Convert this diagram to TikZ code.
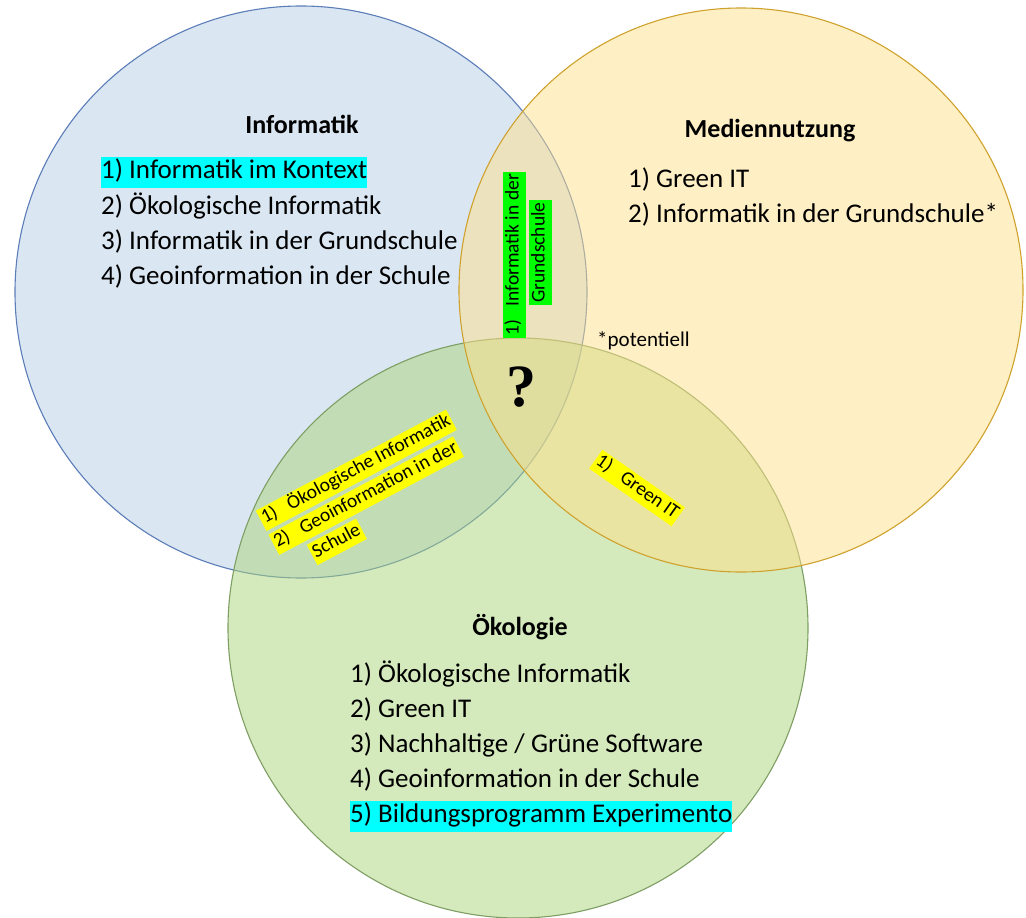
\documentclass[tikz,border=0pt]{standalone}
\usepackage{fontspec}
\setmainfont{Carlito}
\newfontfamily\qfont{Liberation Serif}
\definecolor{infofill}{HTML}{B5CDE5}
\definecolor{infoline}{HTML}{5B7DB8}
\definecolor{medfill}{HTML}{FFDF8B}
\definecolor{medline}{HTML}{CFA22E}
\definecolor{oekofill}{HTML}{ABD579}
\definecolor{oekoline}{HTML}{7E9E63}
\definecolor{hicyan}{HTML}{00FFFF}
\definecolor{higreen}{HTML}{00FF00}
\definecolor{hiyellow}{HTML}{FFFF00}
\newcommand{\numlab}[1]{\makebox[1.5em][l]{#1}}
\tikzset{
	venn/.style={shape=circle, minimum size=#1, inner sep=0pt, line width=1.1pt, fill opacity=0.5},
	heading/.style={font=\bfseries\fontsize{26}{31}\selectfont},
	entry/.style={anchor=west, inner xsep=0pt, inner ysep=2pt, text height=20pt, text depth=7pt, font=\fontsize{27}{32}\selectfont},
	tag/.style={anchor=west, inner xsep=2pt, inner ysep=2pt, text height=14pt, text depth=5pt, font=\fontsize{19.5}{23}\selectfont}
}
\begin{document}
\begin{tikzpicture}[x=1pt, y=-1pt]
			\useasboundingbox (0,0) rectangle (1026,918);
			%Circles:
			\path
				(301,292) node[venn=572pt, fill=infofill, draw=infoline] (inf) {}
				(518,628) node[venn=580pt, fill=oekofill, draw=oekoline] (oeko) {}
				(741,290) node[venn=564pt, fill=medfill, draw=medline] (med) {};
			%Informatik:
			\path
				(302,124) node[heading] (infhead) {Informatik}
				(101,172) node[entry, fill=hicyan] (inf1) {1) Informatik im Kontext}
				(101,208) node[entry] (inf2) {2) Ökologische Informatik}
				(101,243) node[entry] (inf3) {3) Informatik in der Grundschule}
				(101,278) node[entry] (inf4) {4) Geoinformation in der Schule};
			%Mediennutzung:
			\path
				(770,131) node[heading] (medhead) {Mediennutzung}
				(628,181) node[entry] (med1) {1) Green IT}
				(628,216) node[entry] (med2) {2) Informatik in der Grundschule*}
				(597,341) node[anchor=west, inner sep=0pt, font=\fontsize{21}{25}\selectfont] (pot) {*potentiell};
			%Oekologie:
			\path
				(520,627) node[heading] (oekohead) {Ökologie}
				(350,676) node[entry] (oeko1) {1) Ökologische Informatik}
				(350,711) node[entry] (oeko2) {2) Green IT}
				(350,746) node[entry] (oeko3) {3) Nachhaltige / Grüne Software}
				(350,781) node[entry] (oeko4) {4) Geoinformation in der Schule}
				(350,816) node[entry, fill=hicyan] (oeko5) {5) Bildungsprogramm Experimento};
			%Intersections:
			\path
				(514,338) node[tag, rotate=90, fill=higreen] (im1) {\numlab{1)}Informatik in der}
				(540,305) node[tag, rotate=90, fill=higreen] (im2) {Grundschule}
				(521,387) node[inner sep=0pt, font=\qfont\bfseries\fontsize{60}{60}\selectfont] (quest) {?}
				(637,488) node[tag, anchor=center, rotate=-35, fill=hiyellow] (mo1) {\numlab{1)}Green IT};
			\begin{scope}[shift={(261,521)}, rotate=28, transform shape]
				\path
					(0,0) node[tag, fill=hiyellow] (io1) {\numlab{1)}Ökologische Informatik}
					(0,27) node[tag, fill=hiyellow] (io2) {\numlab{2)}Geoinformation in der}
					(29,54) node[tag, fill=hiyellow] (io3) {Schule};
			\end{scope}
\end{tikzpicture}
\end{document}
